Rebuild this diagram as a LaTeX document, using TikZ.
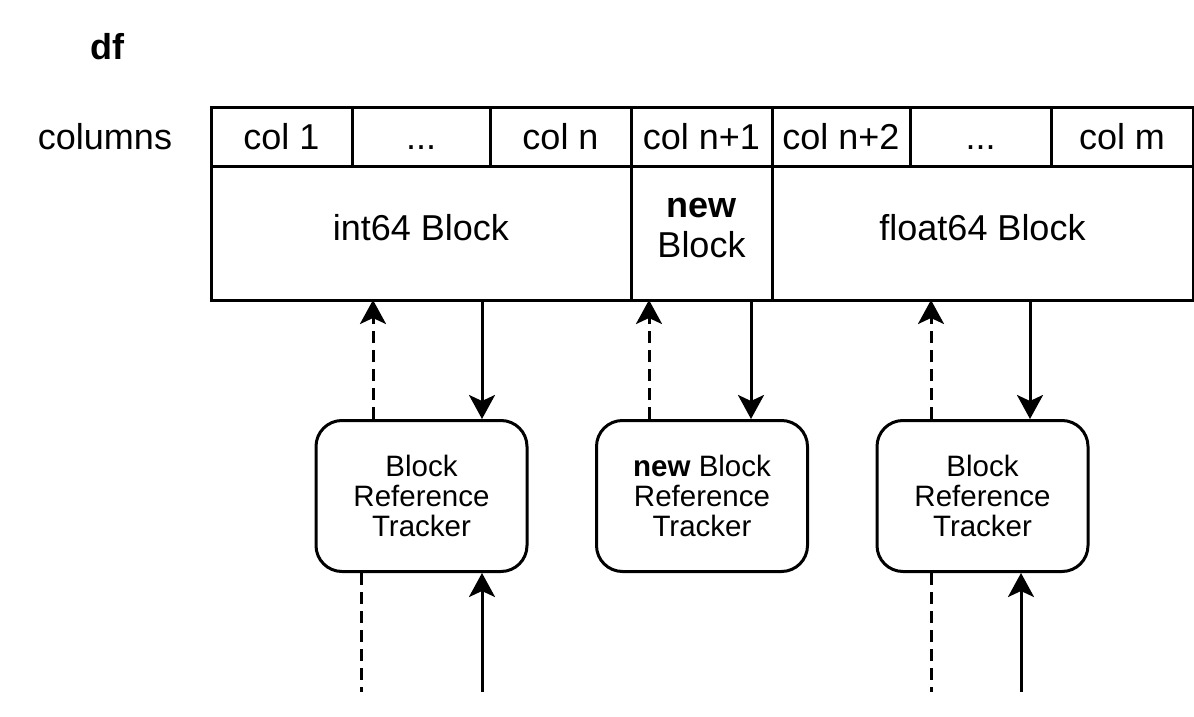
\documentclass[tikz,border=0pt]{standalone}
\usepackage{fontspec}
\setmainfont{Liberation Sans}
\usetikzlibrary{arrows.meta}
\begin{document}
\begin{tikzpicture}[x=1pt,y=-1pt,
  lw/.style={line width=3pt},
  cell/.style={lw, draw, rectangle, inner sep=0pt, outer sep=0pt, align=center,
    font=\fontsize{36}{40}\selectfont},
  tracker/.style={lw, draw, rectangle, rounded corners=26pt, inner sep=0pt,
    minimum width=211pt, minimum height=151pt, align=center,
    font=\fontsize{29.5}{30}\selectfont},
  plain/.style={inner sep=0pt, font=\fontsize{36}{40}\selectfont},
  tip/.style={-{Stealth[length=24pt,width=26pt,inset=6pt]}},
  dashline/.style={lw, dash pattern=on 12pt off 7pt},
  solidline/.style={lw}
]
\useasboundingbox (0,0) rectangle (1194,717);

\node[plain, font=\fontsize{36}{40}\selectfont\bfseries] (df) at (107,47) {df};
\node[plain] (colslabel) at (105,137) {columns};

% header cells
\node[cell, minimum width=141pt, minimum height=59pt] (c1) at (281.5,136.5) {col 1};
\node[cell, minimum width=138pt, minimum height=59pt] (c2) at (421,136.5) {\vphantom{l}...};
\node[cell, minimum width=141pt, minimum height=59pt] (c3) at (560.5,136.5) {col n};
\node[cell, minimum width=141pt, minimum height=59pt] (c4) at (701.5,136.5) {col n+1};
\node[cell, minimum width=138pt, minimum height=59pt] (c5) at (841,136.5) {col n+2};
\node[cell, minimum width=141pt, minimum height=59pt] (c6) at (980.5,136.5) {\vphantom{l}...};
\node[cell, minimum width=142pt, minimum height=59pt] (c7) at (1122,136.5) {col m};

% block cells
\node[cell, minimum width=420pt, minimum height=134pt] (intb) at (421,233) {};
\node[cell, minimum width=141pt, minimum height=134pt] (newb) at (701.5,233) {};
\node[cell, minimum width=421pt, minimum height=134pt] (floatb) at (982.5,233) {};
\node[plain] (intt) at (421,228) {int64 Block};
\node[plain, align=center] (newt) at (701.5,228) {\textbf{new}\\Block};
\node[plain] (floatt) at (982.5,228) {float64 Block};

% trackers
\node[tracker] (t1) at (421.5,496) {Block\\Reference\\Tracker};
\node[tracker] (t2) at (702,496) {\textbf{new} Block\\Reference\\Tracker};
\node[tracker] (t3) at (982.5,496) {Block\\Reference\\Tracker};

% arrows between blocks and trackers
\draw[dashline, tip] (373,0 |- t1.north) -- (373,0 |- intb.south);
\draw[solidline, tip] (482,0 |- intb.south) -- (482,0 |- t1.north);
\draw[dashline, tip] (649,0 |- t2.north) -- (649,0 |- newb.south);
\draw[solidline, tip] (751,0 |- newb.south) -- (751,0 |- t2.north);
\draw[dashline, tip] (931,0 |- t3.north) -- (931,0 |- floatb.south);
\draw[solidline, tip] (1030,0 |- floatb.south) -- (1030,0 |- t3.north);

% lines below trackers
\coordinate (e1) at (361,692);
\coordinate (e2) at (482,692);
\coordinate (e3) at (931,692);
\coordinate (e4) at (1021,692);
\draw[dashline] (e1 |- t1.south) -- (e1);
\draw[solidline, tip] (e2) -- (e2 |- t1.south);
\draw[dashline] (e3 |- t3.south) -- (e3);
\draw[solidline, tip] (e4) -- (e4 |- t3.south);
\end{tikzpicture}
\end{document}
